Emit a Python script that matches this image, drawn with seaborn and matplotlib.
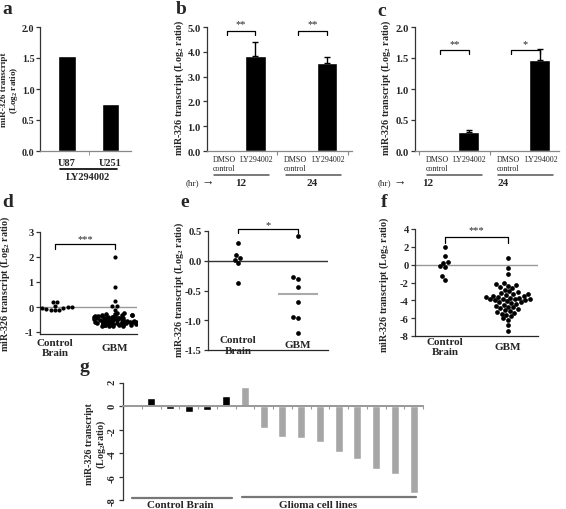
import numpy as np
import pandas as pd
import matplotlib.pyplot as plt
import matplotlib.ticker as mticker
from matplotlib.lines import Line2D
import seaborn as sns

W, H = 566, 510

# panel a: LY294002 treated cell lines
a_cells = ["U87", "U251"]
a_vals = [1.53, 0.76]

# panels b, c: DMSO vs LY294002 at 12 and 24 hr
bc_hours = ["12", "12", "24", "24"]
bc_treat = ["DMSO control", "LY294002", "DMSO control", "LY294002"]
b_vals = [0.0, 3.85, 0.0, 3.55]
b_err = [0.0, 0.55, 0.0, 0.25]
b_stars = ["**", "**"]
c_vals = [0.0, 0.31, 0.0, 1.47]
c_err = [0.0, 0.03, 0.0, 0.17]
c_stars = ["**", "*"]

# panel d
d_ctrl = [0.2, 0.19, 0.05, 0.02, 0.0, -0.02, -0.08, -0.1, -0.12, -0.1, -0.05, 0.02]
d_gbm_high = [2.02, 0.82, 0.25, 0.05, 0.03, -0.1]
d_gbm_block = [-0.22, -0.25, -0.27, -0.29, -0.31, -0.33, -0.34, -0.36, -0.37, -0.39, -0.40,
               -0.41, -0.42, -0.43, -0.44, -0.45, -0.46, -0.47, -0.48, -0.49, -0.50,
               -0.51, -0.52, -0.53, -0.53, -0.54, -0.55, -0.56, -0.57, -0.57, -0.58,
               -0.59, -0.60, -0.60, -0.61, -0.62, -0.63, -0.63, -0.64, -0.65, -0.66,
               -0.66, -0.67, -0.68, -0.69, -0.70, -0.71, -0.72, -0.73, -0.74, -0.76,
               -0.30, -0.35, -0.42, -0.48, -0.52, -0.58, -0.62, -0.66, -0.70, -0.74,
               -0.33, -0.38, -0.45, -0.50, -0.55, -0.61, -0.65, -0.69, -0.72, -0.75]

# panel e
e_ctrl = [0.3, 0.1, 0.04, 0.02, -0.04, -0.38]
e_gbm = [0.41, -0.27, -0.3, -0.44, -0.69, -0.95, -0.97, -1.22]

# panel f
f_ctrl = [2.0, 1.0, 0.3, 0.2, -0.2, -0.3, -1.3, -1.7]
f_gbm = [0.7, -0.4, -1.1,
         -2.1, -2.2, -2.3, -2.4, -2.5, -2.6, -2.8,
         -3.0, -3.1, -3.2, -3.3, -3.3, -3.4, -3.5, -3.5, -3.6, -3.6,
         -3.7, -3.7, -3.8, -3.8, -3.9, -3.9, -4.0, -4.0, -4.1, -4.2,
         -4.2, -4.3, -4.4, -4.5, -4.6, -4.7, -4.8, -4.9, -5.0, -5.1,
         -5.2, -5.3, -5.4, -5.5, -5.6, -5.8, -6.0, -6.2, -6.8, -7.4]

# panel g
g_ctrl = [0.0, 0.65, -0.25, -0.5, -0.35, 0.85]
g_glioma = [1.6, -1.9, -2.65, -2.7, -3.05, -3.9, -4.5, -5.4, -5.75, -7.4]

YLAB = "miR-326 transcript (Log$_2$ ratio)"
GROUPS = ["Control\nBrain", "GBM"]

sns.set_style("ticks")
plt.rcParams["font.family"] = ["Liberation Serif", "DejaVu Serif"]
plt.rcParams["font.weight"] = "bold"
plt.rcParams["mathtext.default"] = "regular"
plt.rcParams["axes.unicode_minus"] = False
plt.rcParams["axes.linewidth"] = 0.9

fig = plt.figure(figsize=(W / 100, H / 100), dpi=100)


def add_ax(x0, y0, x1, y1):
    # pixel box (as in the reference) -> figure fraction
    return fig.add_axes([x0 / W, 1 - y1 / H, (x1 - x0) / W, (y1 - y0) / H])


def ftext(x, y, s, **kw):
    kw.setdefault("ha", "center")
    kw.setdefault("va", "center")
    fig.text(x / W, 1 - y / H, s, **kw)


def fline(x0, x1, y, color="black", lw=1.0):
    fig.add_artist(Line2D([x0 / W, x1 / W], [1 - y / H] * 2,
                          transform=fig.transFigure, color=color, lw=lw))


def base(ax, ylabel, lx, ly, size=7.2, tsize=7.6):
    sns.despine(ax=ax)
    ax.spines["left"].set_color("#333")
    ax.tick_params(axis="y", length=3, width=0.9, labelsize=tsize, pad=1.5, color="#333")
    ax.set_xlabel("")
    ax.set_ylabel(ylabel, fontsize=size, fontweight="bold", linespacing=1.0)
    ax.yaxis.set_label_coords(lx / W, 1 - ly / H, transform=fig.transFigure)


def bracket(ax, x0, x1, y_top, y_end, stars, y_star):
    ax.plot([x0, x0, x1, x1], [y_end, y_top, y_top, y_end], color="black",
            lw=0.9, clip_on=False)
    ax.text((x0 + x1) / 2, y_star, stars, ha="center", va="center", fontsize=7.5,
            fontweight="normal", clip_on=False)


# ---- a ----
ax = add_ax(40, 28, 131, 152)
df_a = pd.DataFrame({"cell": a_cells, "val": a_vals})
sns.barplot(data=df_a, x="cell", y="val", color="black", saturation=1, width=0.41, ax=ax)
ax.set_yticks(np.arange(0, 2.01, 0.5))
ax.yaxis.set_major_formatter(mticker.FormatStrFormatter("%.1f"))
ax.set_xticks([0.5], minor=True)
ax.set_xlim(-0.62, 1.47)
ax.set_ylim(0, 2)
ax.spines["bottom"].set_color("#888")
ax.tick_params(axis="x", which="major", length=0, labelsize=7.5, pad=5)
ax.tick_params(axis="x", which="minor", length=3, color="#888")
base(ax, "miR-326 transcript\n(Log$_2$ ratio)", 20.5, 90, size=6.6, tsize=7.2)
ax.tick_params(axis="y", pad=1)
fline(60, 117, 170, lw=1.2)
ftext(88, 178, "LY294002", fontsize=7.5, fontweight="bold")


# ---- b, c ----
def bar_panel(box, vals, err, stars, yticks, xlim, lab, br_top, br_end, star_y):
    ax = add_ax(*box)
    df = pd.DataFrame({"hr": bc_hours, "treat": bc_treat, "val": vals})
    sns.barplot(data=df, x="hr", y="val", hue="treat", palette=["black", "black"],
                saturation=1, width=0.8, gap=0.27, legend=False, ax=ax)
    xs = np.array([-0.2, 0.2, 0.8, 1.2])
    v = np.array(vals)
    e = np.array(err)
    ax.errorbar(xs[1::2], v[1::2], yerr=[np.zeros(2), e[1::2]], fmt="none",
                ecolor="black", elinewidth=1, capsize=2.5, capthick=1)
    ax.set_yticks(yticks)
    ax.yaxis.set_major_formatter(mticker.FormatStrFormatter("%.1f"))
    ax.set_xticks([-0.5, 0.5, 1.5])
    ax.set_xticklabels([])
    ax.set_xlim(*xlim)
    ax.set_ylim(yticks[0], yticks[-1])
    ax.spines["bottom"].set_color("#888")
    ax.tick_params(axis="x", length=3, color="#888")
    base(ax, YLAB, *lab)
    xt = ax.get_xaxis_transform()
    for x, t in zip(xs, bc_treat):
        dmso = t.startswith("DMSO")
        ax.text(x - 0.2 if dmso else x + 0.02, -0.035, t.replace(" ", "\n"),
                transform=xt, ha="left" if dmso else "center", va="top",
                fontsize=5.8, fontweight="normal", linespacing=1.1,
                multialignment="left", clip_on=False)
    for cat in [0, 1]:
        ax.plot([cat - 0.38, cat + 0.39], [-0.194, -0.194], transform=xt,
                clip_on=False, color="#555", lw=1.1)
        bracket(ax, xs[2 * cat], xs[2 * cat + 1], br_top, br_end, stars[cat], star_y)
    return ax


bar_panel((207, 28, 352, 152), b_vals, b_err, b_stars, np.arange(0, 5.01, 1.0),
          (-0.478, 1.55), (186, 88), 4.84, 4.68, 5.12)
bar_panel((415, 28, 559, 152), c_vals, c_err, c_stars, np.arange(0, 2.01, 0.5),
          (-0.552, 1.47), (393, 88), 1.63, 1.56, 1.73)

for hx, h12, h24 in [(186, 241, 312), (378, 428, 503)]:
    ftext(hx, 183, "(hr)", ha="left", fontsize=6.5, fontweight="normal")
    ftext(hx + 15, 183, "\u2192", ha="left", fontsize=9, fontweight="bold")
    ftext(h12, 183, "12", fontsize=8)
    ftext(h24, 183, "24", fontsize=8)


# ---- d, e, f ----
def finish_dots(ax, xlim, ylim, yticks, fmt, pad, lab):
    ax.set_yticks(yticks)
    ax.yaxis.set_major_formatter(mticker.FormatStrFormatter(fmt))
    ax.set_xlim(*xlim)
    ax.set_ylim(*ylim)
    ax.spines["bottom"].set_visible(False)
    ax.tick_params(axis="x", length=0, labelsize=8, pad=pad)
    for t in ax.get_xticklabels():
        t.set_va("center")
        t.set_linespacing(1.15)
    base(ax, YLAB, *lab)


def swarm(ax, ctrl, gbm, size):
    df = pd.DataFrame({"grp": [GROUPS[0]] * len(ctrl) + [GROUPS[1]] * len(gbm),
                       "val": ctrl + gbm})
    sns.swarmplot(data=df, x="grp", y="val", order=GROUPS, color="black", size=size,
                  ax=ax, zorder=3, warn_thresh=1)


# d
ax = add_ax(40, 233, 137, 335)
ax.axhline(0, color="#999", lw=1, zorder=1)
swarm(ax, d_ctrl, d_gbm_high, 3.0)
np.random.seed(3)
df_blk = pd.DataFrame({"grp": [GROUPS[1]] * len(d_gbm_block), "val": d_gbm_block})
sns.stripplot(data=df_blk, x="grp", y="val", order=GROUPS, color="black", size=3.3,
              jitter=0.37, ax=ax, zorder=3)
finish_dots(ax, (-0.25, 1.37), (-1.08, 3), [-1, 0, 1, 2, 3], "%d", 10, (12, 284))
bracket(ax, 0, 1, 2.52, 2.32, "***", 2.75)

# e
ax = add_ax(208, 232, 328, 351)
ax.axhline(0, color="#333", lw=1, zorder=1)
swarm(ax, e_ctrl, e_gbm, 3.4)
ax.hlines(np.mean(e_gbm), 1 - 0.33, 1 + 0.33, color="#aaa", lw=1.5, zorder=2)
finish_dots(ax, (-0.5, 1.5), (-1.5, 0.5), np.arange(-1.5, 0.51, 0.5), "%.1f", -3.6, (186, 290))
bracket(ax, 0, 1, 0.54, 0.47, "*", 0.61)

# f
ax = add_ax(415, 230, 538, 337)
ax.axhline(0, color="#999", lw=1, zorder=1)
swarm(ax, f_ctrl, f_gbm, 3.4)
ax.hlines(np.mean(f_gbm), 1 - 0.32, 1 + 0.32, color="#aaa", lw=1.5, zorder=2)
finish_dots(ax, (-0.476, 1.48), (-8, 4), np.arange(-8, 4.1, 2), "%d", 7.9, (391, 285))
bracket(ax, 0, 1, 3.15, 2.47, "***", 3.97)

# ---- g ----
ax = add_ax(123, 383.5, 423, 501)
g_group = ["Control Brain"] * len(g_ctrl) + ["Glioma cell lines"] * len(g_glioma)
df_g = pd.DataFrame({"sample": [f"s{i}" for i in range(len(g_group))],
                     "group": g_group, "val": g_ctrl + g_glioma})
sns.barplot(data=df_g, x="sample", y="val", hue="group", dodge=False, width=0.42,
            palette={"Control Brain": "black", "Glioma cell lines": "#a6a6a6"},
            saturation=1, legend=False, ax=ax)
n = len(g_group)
ax.set_xticks(np.arange(-0.5, n, 1.0))
ax.set_xticklabels([])
ax.set_xlim(-0.5, n - 0.5)
ax.set_ylim(-8, 2)
ax.set_yticks(np.arange(-8, 2.1, 2))
ax.yaxis.set_major_formatter(mticker.FormatStrFormatter("%d"))
base(ax, "miR-326 transcript\n(Log$_2$ratio)", 108, 444)
ax.spines["bottom"].set_position(("data", 0))
ax.spines["bottom"].set_color("#999")
ax.spines["bottom"].set_linewidth(1.4)
ax.tick_params(axis="x", length=2.5, color="#999")
ax.tick_params(axis="y", labelrotation=90)
fline(132, 232, 499, color="#777", lw=1.6)
fline(242, 416, 498, color="#777", lw=1.6)
ftext(180, 506, "Control Brain", fontsize=8)
ftext(318, 506, "Glioma cell lines", fontsize=8)

# panel letters
for x, y, s in [(2, 14, "a"), (176, 14, "b"), (377, 16, "c"), (2, 207, "d"),
                (180, 207, "e"), (381, 207, "f"), (80, 372, "g")]:
    ftext(x, y, s, ha="left", va="baseline", fontsize=14, fontweight="bold")

fig.savefig("out.png", dpi=100)
